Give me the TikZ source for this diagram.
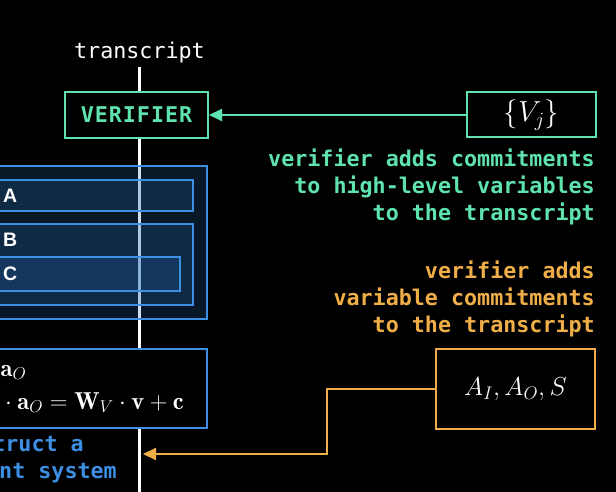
\RequirePackage{fix-cm}
\documentclass[tikz,border=0pt]{standalone}
\usepackage{fontspec}
\usetikzlibrary{arrows.meta}
\newfontfamily\monofont{DejaVu Sans Mono}
\newfontfamily\labelfont{Liberation Sans}
\definecolor{mint}{HTML}{5FE3AE}
\definecolor{amber}{HTML}{F0AE48}
\definecolor{skyline}{HTML}{3C8FE2}
\definecolor{layerfill}{RGB}{40,110,180}
\begin{document}
\begin{tikzpicture}[x=1pt,y=-1pt,
	mono/.style={font=\monofont\fontsize{21.7}{27}\selectfont},
	monobold/.style={font=\monofont\bfseries\fontsize{21.7}{27}\selectfont},
	note/.style={monobold,anchor=north east,align=right,inner sep=0pt},
	framebox/.style={draw,line width=2pt,fill=black},
	layer/.style={draw=skyline,line width=2pt,fill=layerfill,fill opacity=.22},
	tag/.style={font=\labelfont\bfseries\fontsize{19.5}{23}\selectfont,text=white,anchor=west,inner sep=0pt},
	eq/.style={font=\fontsize{24.5}{29}\selectfont,text=white,inner sep=0pt},
	link/.style={line width=2pt,-{Triangle[length=13pt,width=12pt]}}]
	\fill[black] (0,0) rectangle (616,492);
	\useasboundingbox (0,0) rectangle (616,492);
	\node[mono,text=white,anchor=base,inner sep=3pt] (title) at (139.5,59) {transcript};
	\coordinate (tbot) at (139.5,494);
	\draw[white,line width=3pt] (title.south)--(tbot);
	\draw[layer] (-10,166) rectangle (207,319);
	\draw[layer] (-10,180) rectangle (193,211);
	\draw[layer] (-10,224) rectangle (193,305);
	\draw[layer] (-10,257) rectangle (180,291);
	\node[tag] (la) at (3,195.5) {A};
	\node[tag] (lb) at (3,240) {B};
	\node[tag] (lc) at (3,274) {C};
	\draw[framebox,draw=skyline] (-10,349) rectangle (207,428);
	\node[eq,anchor=base west] (eqa) at (0.5,376) {$\mathbf{a}_O$};
	\node[eq,anchor=base east] (eqb) at (184,409) {${}\cdot\mathbf{a}_O=\mathbf{W}_V\cdot\mathbf{v}+\mathbf{c}$};
	\node[monobold,text=skyline,anchor=base east,inner sep=0pt] (cs1) at (84,451) {truct a};
	\node[monobold,text=skyline,anchor=base east,inner sep=0pt] (cs2) at (117,478) {nt system};
	\node[framebox,draw=mint,text=mint,monobold,minimum width=143pt,minimum height=46pt] (verifier) at (136.5,115) {\addfontfeature{LetterSpace=4.5}VERIFIER};
	\node[framebox,draw=mint,text=white,font=\fontsize{29}{34}\selectfont,minimum width=129pt,minimum height=45pt] (vj) at (531.5,115) {$\{V_j\}$};
	\draw[mint,link] (vj)--(verifier);
	\node[note,text=mint] (vnote) at (595,148.5) {verifier adds commitments\\to high-level variables\\to the transcript};
	\node[note,text=amber] (anote) at (595,260.5) {verifier adds\\variable commitments\\to the transcript};
	\node[framebox,draw=amber,text=white,font=\fontsize{26}{31}\selectfont,minimum width=159pt,minimum height=80pt] (as) at (515.5,389) {$A_I,A_O,S$};
	\coordinate (inlet) at (143,454);
	\draw[amber,link] (as.west)--++(-108,0)|-(inlet);
\end{tikzpicture}
\end{document}
